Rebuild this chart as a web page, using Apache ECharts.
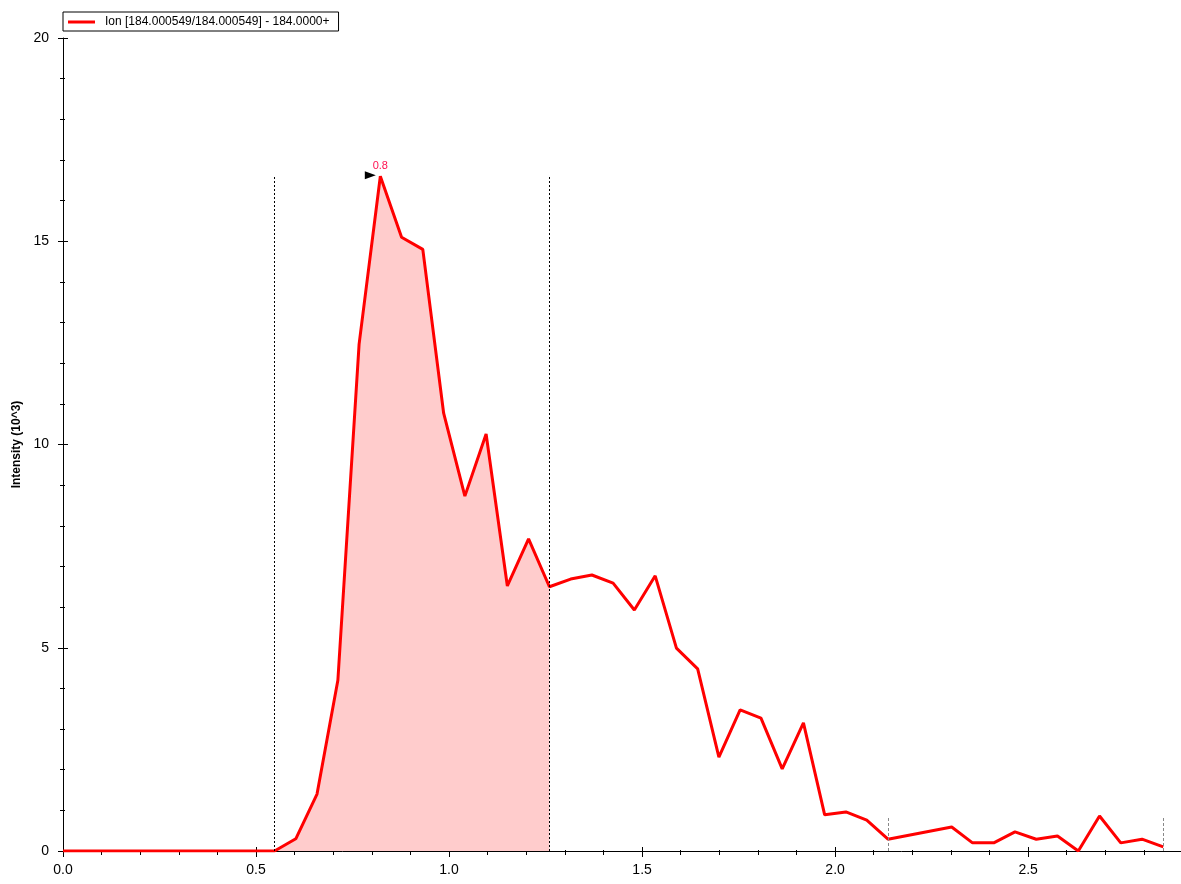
<!DOCTYPE html>
<html>
<head>
<meta charset="utf-8">
<title>Ion chromatogram</title>
<script src="https://cdn.jsdelivr.net/npm/echarts@6/dist/echarts.min.js"></script>
<style>
    html, body { margin: 0; padding: 0; background: #fff; }
    #chart { width: 1181px; height: 884px; }
</style>
</head>
<body>
<div id="chart"></div>
<script>
// retention time (min)
const times = [
    0.000, 0.055, 0.110, 0.164, 0.219, 0.274, 0.329, 0.384, 0.438, 0.493,
    0.548, 0.603, 0.658, 0.712, 0.767, 0.822, 0.877, 0.932, 0.986, 1.041,
    1.096, 1.151, 1.206, 1.260, 1.315, 1.370, 1.425, 1.480, 1.534, 1.589,
    1.644, 1.699, 1.754, 1.808, 1.863, 1.918, 1.973, 2.028, 2.082, 2.137,
    2.302, 2.356, 2.411, 2.466, 2.521, 2.576, 2.630, 2.685, 2.740, 2.795,
    2.850
];
// intensity (10^3)
const intensity = [
    0, 0, 0, 0, 0, 0, 0, 0, 0, 0,
    0, 0.30, 1.40, 4.20, 12.47, 16.60, 15.10, 14.80, 10.77, 8.73,
    10.26, 6.52, 7.68, 6.50, 6.69, 6.79, 6.59, 5.93, 6.77, 4.99,
    4.48, 2.31, 3.47, 3.27, 2.02, 3.15, 0.89, 0.96, 0.76, 0.29,
    0.59, 0.20, 0.20, 0.47, 0.29, 0.37, 0.00, 0.86, 0.20, 0.29,
    0.10
];
const xTicks = [0, 0.5, 1.0, 1.5, 2.0, 2.5];
const yTicks = [0, 5, 10, 15, 20];

// integrated peak window and the baseline window (indices into the arrays)
const peakStart = 10;
const peakEnd = 23;
const baseStart = 39;
const baseEnd = 50;

const seriesName = 'Ion [184.000549/184.000549] - 184.0000+';
const font = 'Liberation Sans, Arial, sans-serif';

const points = times.map((t, i) => [t, intensity[i]]);
const peakPoints = points.slice(peakStart, peakEnd + 1);
const peakMax = Math.max(...intensity.slice(peakStart, peakEnd + 1));
const peakIdx = intensity.indexOf(peakMax);
const baseMax = Math.max(...intensity.slice(baseStart, baseEnd + 1));

const chart = echarts.init(document.getElementById('chart'));

const xBase = {
    type: 'value',
    min: 0,
    max: 2.896,
    interval: 0.5,
    gridIndex: 0,
    position: 'bottom',
    splitLine: {show: false}
};
const yBase = {
    type: 'value',
    min: 0,
    max: 20,
    interval: 5,
    gridIndex: 0,
    position: 'left',
    splitLine: {show: false}
};

chart.setOption({
    animation: false,
    backgroundColor: '#fff',
    textStyle: {fontFamily: font},
    grid: {left: 63, right: 0, top: 38, bottom: 33, containLabel: false},
    legend: {
        left: 63,
        top: 12,
        orient: 'horizontal',
        data: [{name: seriesName, icon: 'rect'}],
        borderColor: '#000',
        borderWidth: 1,
        borderRadius: 0,
        padding: [4, 9, 3, 5],
        itemWidth: 27,
        itemHeight: 3,
        itemGap: 0,
        textStyle: {color: '#000', fontSize: 12, fontFamily: font, padding: [0, 0, 0, 5]}
    },
    xAxis: [
        Object.assign({}, xBase, {
            axisLine: {show: true, lineStyle: {color: '#000', width: 1}},
            axisTick: {show: true, length: 6, lineStyle: {color: '#000'}},
            minorTick: {show: true, splitNumber: 5, length: 4, lineStyle: {color: '#000'}},
            axisLabel: {
                show: true,
                margin: 12,
                color: '#000',
                fontSize: 14,
                fontFamily: font,
                showMaxLabel: false,
                formatter: v => xTicks.indexOf(Math.round(v * 10) / 10) >= 0 && Math.abs(v - Math.round(v * 2) / 2) < 1e-6 ? v.toFixed(1) : ''
            }
        }),
        Object.assign({}, xBase, {
            axisLine: {show: false},
            axisTick: {show: true, inside: true, length: 4, lineStyle: {color: '#000'}},
            minorTick: {show: true, splitNumber: 5, length: 1, lineStyle: {color: '#000'}},
            axisLabel: {show: false}
        })
    ],
    yAxis: [
        Object.assign({}, yBase, {
            name: 'Intensity (10^3)',
            nameLocation: 'middle',
            nameGap: 40,
            nameTextStyle: {color: '#000', fontSize: 12, fontWeight: 'bold', fontFamily: font},
            axisLine: {show: true, lineStyle: {color: '#000', width: 1}},
            axisTick: {show: true, length: 5, lineStyle: {color: '#000'}},
            minorTick: {show: true, splitNumber: 5, length: 3, lineStyle: {color: '#000'}},
            axisLabel: {
                show: true,
                margin: 14,
                color: '#000',
                fontSize: 14,
                fontFamily: font,
                formatter: v => yTicks.indexOf(v) >= 0 ? String(v) : ''
            }
        }),
        Object.assign({}, yBase, {
            axisLine: {show: false},
            axisTick: {show: true, inside: true, length: 5, lineStyle: {color: '#000'}},
            minorTick: {show: true, splitNumber: 5, length: 2, lineStyle: {color: '#000'}},
            axisLabel: {show: false, inside: true}
        })
    ],
    series: [
        {
            // shaded integrated area
            name: 'area',
            type: 'line',
            xAxisIndex: 0,
            yAxisIndex: 0,
            data: peakPoints,
            showSymbol: false,
            symbol: 'none',
            lineStyle: {width: 0, opacity: 0},
            areaStyle: {color: '#ffcccc', opacity: 1},
            silent: true,
            z: 1
        },
        {
            name: seriesName,
            type: 'line',
            xAxisIndex: 0,
            yAxisIndex: 0,
            data: points,
            showSymbol: false,
            symbol: 'none',
            itemStyle: {color: '#ff0000'},
            lineStyle: {color: '#ff0000', width: 3},
            z: 3,
            markLine: {
                silent: true,
                symbol: 'none',
                label: {show: false},
                data: [
                    [{coord: [times[peakStart], 0], lineStyle: {color: '#000', type: [2, 2], width: 1}},
                     {coord: [times[peakStart], peakMax]}],
                    [{coord: [times[peakEnd], 0], lineStyle: {color: '#000', type: [2, 2], width: 1}},
                     {coord: [times[peakEnd], peakMax]}],
                    [{coord: [times[baseStart], 0], lineStyle: {color: '#888', type: [3, 2], width: 1}},
                     {coord: [times[baseStart], baseMax]}],
                    [{coord: [times[intensity.length - 1], 0], lineStyle: {color: '#888', type: [3, 2], width: 1}},
                     {coord: [times[intensity.length - 1], baseMax]}]
                ]
            },
            markPoint: {
                silent: true,
                data: [
                    {
                        coord: [times[peakIdx], peakMax],
                        symbol: 'triangle',
                        symbolRotate: -90,
                        symbolSize: [8, 11],
                        symbolOffset: [-10, -1],
                        itemStyle: {color: '#000'},
                        label: {show: false}
                    },
                    {
                        coord: [times[peakIdx], peakMax],
                        symbol: 'circle',
                        symbolSize: 1,
                        itemStyle: {color: 'rgba(0,0,0,0)'},
                        label: {
                            show: true,
                            position: 'top',
                            distance: 4,
                            color: '#ff1050',
                            fontSize: 11,
                            fontFamily: font,
                            formatter: () => times[peakIdx].toFixed(1)
                        }
                    }
                ]
            }
        }
    ]
});
</script>
</body>
</html>
